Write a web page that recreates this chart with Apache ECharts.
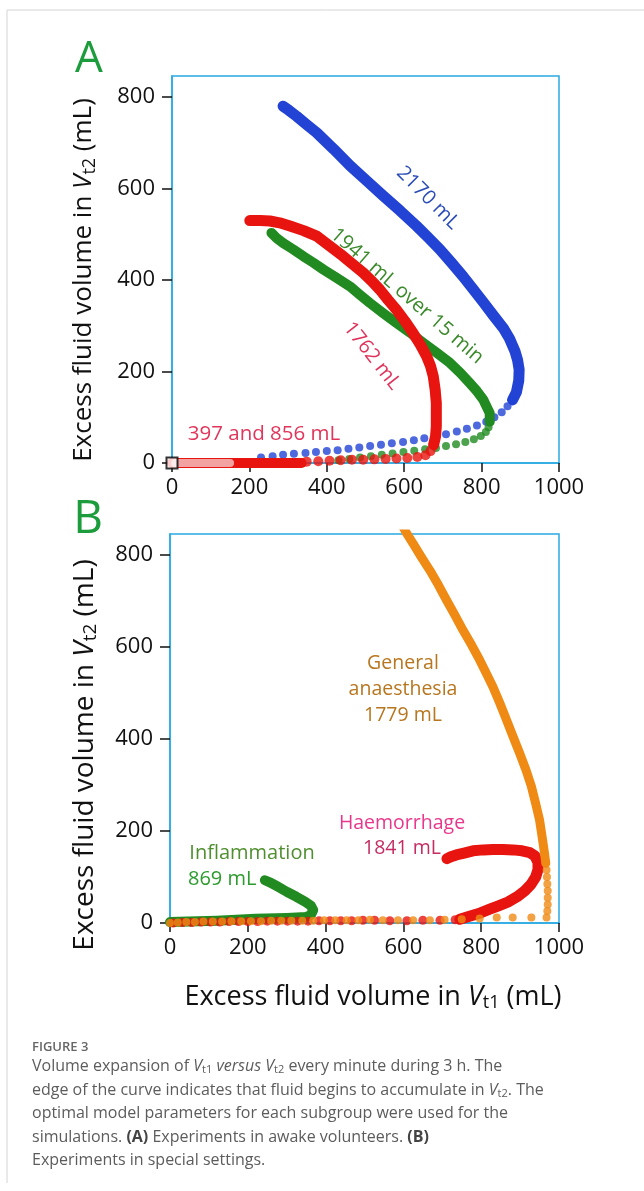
<!DOCTYPE html>
<html>
<head>
<meta charset="utf-8">
<script src="https://cdn.jsdelivr.net/npm/echarts@6/dist/echarts.min.js"></script>
<style>
html,body{margin:0;padding:0;background:#fff;}
#chart{width:644px;height:1191px;}
</style>
</head>
<body>
<div id="chart"></div>
<script>
// ticks shared by both panels
var xTicks = [0, 200, 400, 600, 800, 1000];
var yTicks = [0, 200, 400, 600, 800];

// ---- panel A: awake volunteers ----
// 2170 mL (blue): sparse start, then dense part
var blueDotsA = [[230,12],[260,15],[287,18],[315,20],[345,22],[372,24],[400,26],[428,28],[456,31],[484,34],[512,37],[540,40],[568,43],[597,46],[625,50],[652,54],[680,58],[708,63],[736,69],[762,75],[788,82],[812,90],[833,100],[852,111],[867,124],[880,138]];
var bluePathA = [[880,138],[890,155],[896,180],[897,204],[893,225],[886,245],[872,272],[856,295],[830,323],[804,352],[778,380],[752,408],[722,438],[692,467],[662,493],[632,518],[590,551],[546,584],[503,617],[460,650],[418,686],[374,722],[346,741],[322,758],[302,771],[287,780]];
// 1941 mL over 15 min (green)
var greenDotsA = [[430,6],[458,9],[486,12],[514,15],[542,18],[570,21],[598,24],[626,27],[654,30],[682,33],[708,37],[734,41],[758,46],[780,52],[798,59],[811,68],[818,78],[821,90]];
var greenPathA = [[821,90],[821,109],[812,125],[804,139],[788,157],[769,175],[745,197],[718,219],[684,241],[649,263],[615,285],[580,306],[545,328],[511,350],[485,368],[460,386],[425,405],[391,423],[365,438],[339,452],[313,467],[287,481],[270,492],[257,503]];
// 1762 mL (red)
var redDotsA = [[348,3],[378,4],[407,5],[436,6],[465,7],[494,7],[523,8],[552,9],[580,10],[608,11],[634,13],[655,17],[668,26],[676,40]];
var redPathA = [[676,40],[681,58],[683,80],[683,105],[683,131],[680,160],[675,190],[668,212],[658,233],[642,258],[623,284],[602,310],[580,335],[558,357],[537,379],[516,398],[494,416],[468,434],[442,452],[408,474],[374,496],[340,508],[305,518],[278,525],[253,529],[228,530],[201,530]];
// 397 and 856 mL (stay on the axis)
var path856 = [[0,0],[335,0]];
var path397 = [[8,0],[150,0]];
var originA = [[0,0]];

// ---- panel B: special settings ----
// General anaesthesia 1779 mL (orange)
var orangeDotsB = [[0,0],[20,1],[42,2],[64,2],[86,3],[110,3],[134,3],[158,4],[183,4],[208,4],[234,4],[260,5],[286,5],[312,5],[340,5],[368,5],[396,6],[425,6],[454,6],[484,6],[514,7],[547,6],[586,6],[625,6],[668,6],[706,7],[750,8],[796,10],[840,12],[881,12],[929,12],[968,12],[970,26],[971,40],[971,55],[971,70],[970,85],[969,100],[968,115],[966,130]];
var orangePathB = [[966,130],[963,150],[957,185],[950,224],[940,260],[929,297],[915,333],[899,369],[882,405],[865,442],[848,478],[830,514],[813,543],[796,572],[775,605],[753,637],[732,670],[711,702],[690,735],[668,767],[646,796],[625,825],[608,848],[590,875]];
// Haemorrhage 1841 mL (red)
var redDotsB = [[8,0],[32,1],[56,1],[80,2],[104,2],[128,2],[152,3],[176,3],[200,3],[225,3],[250,4],[276,4],[302,4],[328,4],[355,4],[383,5],[411,5],[439,5],[467,5],[496,6],[526,6],[565,5],[609,5],[650,6],[694,6],[733,7]];
var redPathB = [[745,8],[772,15],[798,22],[822,30],[846,38],[870,46],[892,57],[912,70],[928,84],[940,100],[946,116],[946,132],[938,146],[925,153],[905,157],[882,159],[856,160],[830,160],[805,159],[779,157],[756,152],[736,148],[722,144],[712,140]];
// Inflammation 869 mL (green)
var greenPathB = [[0,2],[120,5],[220,9],[300,11],[350,13],[362,17],[368,28],[362,38],[348,46],[325,57],[300,68],[275,80],[258,88],[244,93]];

var FONT = 'Open Sans';
var BOX = '#29abe2';
var C_BLUE = '#2243d4', C_GREEN = '#218b21', C_RED = '#e8140f', C_ORANGE = '#ef8a14';

function dots(data, color, size, gi, z) {
    return {
        type: 'scatter', xAxisIndex: gi, yAxisIndex: gi, data: data,
        symbolSize: size, itemStyle: {color: color}, z: z, silent: true
    };
}
function path(data, color, width, gi, z) {
    return {
        type: 'line', xAxisIndex: gi, yAxisIndex: gi, data: data,
        showSymbol: false, symbol: 'none', z: z, silent: true,
        lineStyle: {color: color, width: width, cap: 'round', join: 'round'}
    };
}
function plain(v) { return String(v); }
function xAx(gi) {
    return {
        gridIndex: gi, type: 'value', min: 0, max: 1000, interval: 200,
        axisLine: {show: true, onZero: false, lineStyle: {color: BOX, width: 1.5}},
        axisTick: {show: true, length: 9, customValues: xTicks, lineStyle: {color: '#111', width: 1.5}},
        axisLabel: {customValues: xTicks, formatter: plain, color: '#111', fontSize: 22, margin: 14, fontFamily: FONT},
        splitLine: {show: false}
    };
}
function yAx(gi) {
    return {
        gridIndex: gi, type: 'value', min: 0, max: 846, interval: 200,
        axisLine: {show: true, lineStyle: {color: BOX, width: 1.5}},
        axisTick: {show: true, length: 10, customValues: yTicks, lineStyle: {color: '#111', width: 1.5}},
        axisLabel: {customValues: yTicks, formatter: plain, color: '#111', fontSize: 22, margin: 17, fontFamily: FONT},
        splitLine: {show: false}
    };
}
function txt(x, y, text, color, size, rot, align, extra) {
    var s = {text: text, fill: color, fontSize: size, fontFamily: FONT,
             textAlign: align || 'center', textVerticalAlign: 'middle'};
    if (extra) for (var k in extra) s[k] = extra[k];
    return {type: 'text', x: x, y: y, rotation: rot || 0, style: s, z: 100, silent: true};
}
function richTxt(x, y, text, size, rot, align, rich, color) {
    return {type: 'text', x: x, y: y, rotation: rot || 0, z: 100, silent: true,
        style: {text: text, fontSize: size, fontFamily: FONT, fill: color,
                textAlign: align, textVerticalAlign: 'middle', rich: rich}};
}
// italic V with subscript
function axisRich(size, color) {
    return {
        i: {fontStyle: 'italic', fontSize: size, fontFamily: FONT, fill: color},
        s: {fontSize: Math.round(size * 0.68), fontFamily: FONT, padding: [Math.round(size * 0.42), 0, 0, 0], fill: color}
    };
}
var capColor = '#5c5c5c';
var capRich = {
    i: {fontStyle: 'italic', fontSize: 16, fontFamily: FONT, fill: capColor},
    s: {fontSize: 11, fontFamily: FONT, padding: [7, 0, 0, 0], fill: capColor},
    b: {fontWeight: 'bold', fontSize: 16, fontFamily: FONT, fill: '#444'}
};

var chart = echarts.init(document.getElementById('chart'));
var deg = Math.PI / 180;
var option = {
    animation: false,
    backgroundColor: '#fff',
    grid: [
        {left: 172, right: 85, top: 76, bottom: 728, show: true, borderColor: BOX, borderWidth: 1.5},
        {left: 170, right: 85, top: 534, bottom: 268, show: true, borderColor: BOX, borderWidth: 1.5}
    ],
    xAxis: [xAx(0), xAx(1)],
    yAxis: [yAx(0), yAx(1)],
    series: [
        dots(blueDotsA, C_BLUE, 8, 0, 2),
        path(bluePathA, C_BLUE, 11, 0, 2),
        dots(greenDotsA, C_GREEN, 8, 0, 3),
        path(greenPathA, C_GREEN, 10, 0, 3),
        path(path856, C_RED, 10, 0, 4),
        path(path397, '#f3a2a2', 8, 0, 5),
        dots(redDotsA, C_RED, 10, 0, 6),
        path(redPathA, C_RED, 11, 0, 6),
        {type: 'scatter', xAxisIndex: 0, yAxisIndex: 0, data: originA, symbol: 'rect', symbolSize: 11,
         itemStyle: {color: '#fff', borderColor: '#000', borderWidth: 2}, z: 8, silent: true},

        path(greenPathB, C_GREEN, 10, 1, 2),
        dots(redDotsB, C_RED, 9, 1, 3),
        path(redPathB, C_RED, 11, 1, 3),
        dots(orangeDotsB, C_ORANGE, 8, 1, 4),
        path(orangePathB, C_ORANGE, 9, 1, 4)
    ],
    graphic: [
        {type: 'polyline', shape: {points: [[7, 1183], [7, 10], [644, 10]]}, style: {stroke: '#d4d4d4', lineWidth: 1, fill: null}, silent: true},
        txt(89, 59, 'A', '#1c9c3c', 44),
        txt(88, 520, 'B', '#1c9c3c', 46),
        richTxt(84, 280, 'Excess fluid volume in {i|V}{s|t2} (mL)', 26, Math.PI / 2, 'center', axisRich(26, '#111'), '#111'),
        richTxt(85, 755, 'Excess fluid volume in {i|V}{s|t2} (mL)', 28, Math.PI / 2, 'center', axisRich(28, '#111'), '#111'),
        richTxt(373, 997, 'Excess fluid volume in {i|V}{s|t1} (mL)', 27, 0, 'center', axisRich(27, '#111'), '#111'),

        txt(428, 198, '2170 mL', '#2a4cb8', 20, -45 * deg),
        txt(407, 296, '1941 mL over 15 min', '#3c8a2c', 20, -41 * deg),
        txt(372, 356, '1762 mL', '#e0335c', 20, -52 * deg),
        txt(264, 434, '397 and 856 mL', '#e0365c', 20.5),

        txt(403, 689, 'General\nanaesthesia\n1779 mL', '#b8761e', 19.5, 0, 'center', {lineHeight: 26}),
        txt(402, 823, 'Haemorrhage', '#e8388c', 19.5),
        txt(402, 848, '1841 mL', '#c42c62', 19.5),
        txt(252, 853, 'Inflammation', '#4f8f2f', 20),
        txt(188, 879, '869 mL', '#2d9b2d', 20, 0, 'left'),

        txt(32, 1047, 'FIGURE 3', '#666', 13, 0, 'left', {fontWeight: 600}),
        richTxt(32, 1066, 'Volume expansion of {i|V}{s|t1} {i|versus} {i|V}{s|t2} every minute during 3 h. The', 16, 0, 'left', capRich, capColor),
        richTxt(32, 1090, 'edge of the curve indicates that fluid begins to accumulate in {i|V}{s|t2}. The', 16, 0, 'left', capRich, capColor),
        richTxt(32, 1113, 'optimal model parameters for each subgroup were used for the', 16, 0, 'left', capRich, capColor),
        richTxt(32, 1137, 'simulations. {b|(A)} Experiments in awake volunteers. {b|(B)}', 16, 0, 'left', capRich, capColor),
        richTxt(32, 1160, 'Experiments in special settings.', 16, 0, 'left', capRich, capColor)
    ]
};
chart.setOption(option);
</script>
</body>
</html>
